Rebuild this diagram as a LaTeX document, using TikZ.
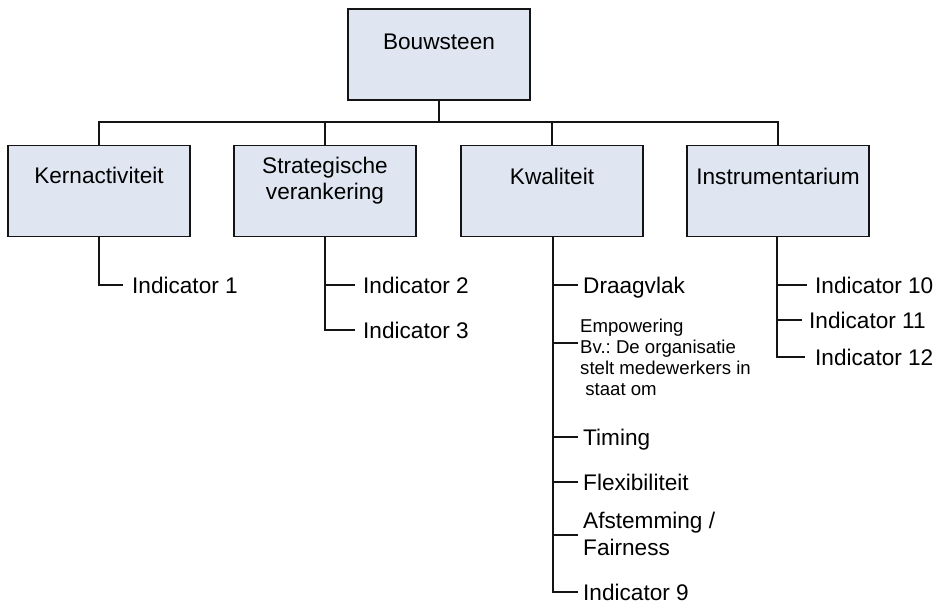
\documentclass[tikz,border=0pt]{standalone}
\usepackage{fontspec}
\setmainfont{Liberation Sans}
\frenchspacing
\definecolor{boxfill}{RGB}{223,230,241}
\definecolor{edge}{RGB}{20,20,20}
\tikzset{
  box/.style={draw=edge, line width=1.3pt, fill=boxfill, minimum width=182pt, minimum height=91pt, inner sep=0pt},
  lbl/.style={inner sep=0pt, font=\fontsize{22.6}{26.5}\selectfont, text height=16.2pt, text depth=0pt},
  multilbl/.style={inner sep=0pt, font=\fontsize{22.6}{26.5}\selectfont, align=center},
  sub/.style={lbl, anchor=west},
  small/.style={inner sep=0pt, anchor=west, align=left, font=\fontsize{18.6}{21}\selectfont},
  conn/.style={draw=edge, line width=1.2pt}
}
\begin{document}
\begin{tikzpicture}[x=1pt,y=-1pt]
\useasboundingbox (0,0) rectangle (937,603);
% top
\node[box] (b) at (439,54.5) {};
\node[lbl] (bt) at (439,41) {Bouwsteen};
% level 2
\node[box] (k) at (99,191) {};
\node[lbl] (kt) at (99,175) {Kernactiviteit};
\node[box] (s) at (325,191) {};
\node[multilbl] (st) at (325,180.5) {Strategische\\verankering};
\node[box] (q) at (552,191) {};
\node[lbl] (qt) at (552,176) {Kwaliteit};
\node[box] (r) at (778,191) {};
\node[lbl] (rt) at (778,176) {Instrumentarium};
% bus
\coordinate (bus) at (439,122);
\draw[conn] (b.south) -- (bus);
\draw[conn] (k.north) -- (k.north |- bus) -- (r.north |- bus) -- (r.north);
\draw[conn] (s.north) -- (s.north |- bus);
\draw[conn] (q.north) -- (q.north |- bus);
% Kernactiviteit
\coordinate (k1) at (123,285);
\node[sub] (k1t) at (132,285) {Indicator 1};
\draw[conn] (k.south) |- (k1);
% Strategische
\coordinate (s2) at (355,285);
\coordinate (s3) at (355,330);
\node[sub] (s2t) at (363,285) {Indicator 2};
\node[sub] (s3t) at (363,330) {Indicator 3};
\draw[conn] (s.south) |- (s3);
\draw[conn] (s.south |- s2) -- (s2);
% Kwaliteit
\coordinate (qv) at (553,236);
\coordinate (q1) at (578,285);
\coordinate (q2) at (578,343);
\coordinate (q3) at (578,437);
\coordinate (q4) at (578,482);
\coordinate (q5) at (578,535);
\coordinate (q6) at (578,592);
\node[sub] (q1t) at (583,285) {Draagvlak};
\node[small] (q2t) at (580,357.5) {Empowering\\Bv.: De organisatie\\stelt medewerkers in\\\ staat om};
\node[sub] (q3t) at (583,437) {Timing};
\node[sub] (q4t) at (583,482) {Flexibiliteit};
\node[inner sep=0pt, anchor=west, align=left, font=\fontsize{22.6}{27}\selectfont] (q5t) at (583,533.5) {Afstemming /\\Fairness};
\node[sub] (q6t) at (583,592) {Indicator 9};
\draw[conn] (qv) |- (q6);
\foreach \c in {q1,q2,q3,q4,q5} \draw[conn] (qv |- \c) -- (\c);
% Instrumentarium
\coordinate (rv) at (777,236);
\coordinate (r1) at (807,285);
\coordinate (r2) at (802,320);
\coordinate (r3) at (805,357);
\node[sub] (r1t) at (815,285) {Indicator 10};
\node[sub] (r2t) at (809,320) {Indicator 11};
\node[sub] (r3t) at (815,357) {Indicator 12};
\draw[conn] (rv) |- (r3);
\draw[conn] (rv |- r1) -- (r1);
\draw[conn] (rv |- r2) -- (r2);
\end{tikzpicture}
\end{document}
